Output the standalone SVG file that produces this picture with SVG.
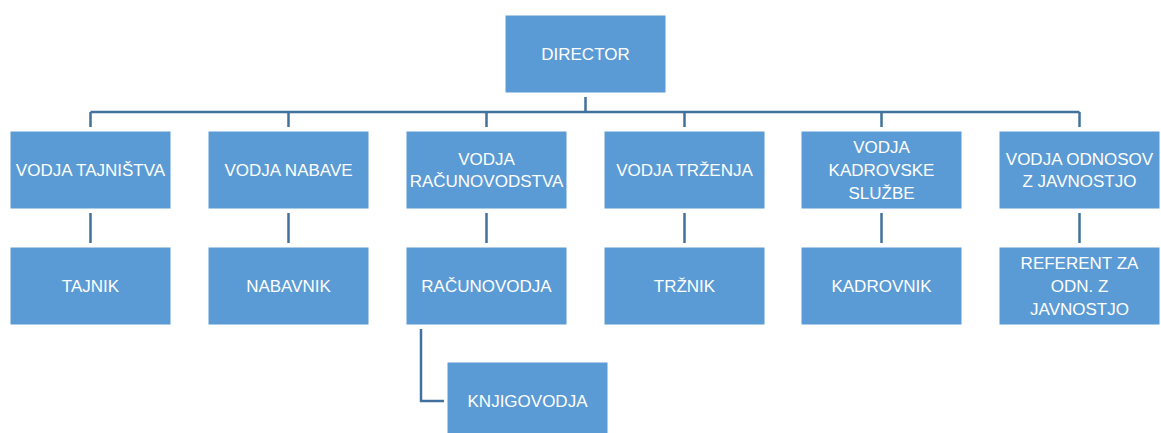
<svg xmlns="http://www.w3.org/2000/svg" width="1161" height="433" viewBox="0 0 1161 433">
<style>
.box{fill:#5B9BD5;stroke:#ffffff;stroke-width:1}
.t{fill:#ffffff;font-family:"Liberation Sans",Arial,sans-serif;font-size:17px;text-anchor:middle}
.c{fill:none;stroke:#41719C;stroke-width:2.5}
</style>
<rect width="1161" height="433" fill="#ffffff"/>
<g id="connectors">
<path class="c" d="M585.5 97V112M90.5 112H1079.5"/>
<path class="c" d="M90.5 112V127M288.5 112V127M486.5 112V127M684.5 112V127M881.5 112V127M1079.5 112V127"/>
<path class="c" d="M90.5 213V243M288.5 213V243M486.5 213V243M684.5 213V243M881.5 213V243M1079.5 213V243"/>
<path class="c" d="M421 329V401H444"/>
</g>
<g id="director"><rect class="box" x="505" y="15" width="161" height="78"/><text class="t" x="585.5" y="60">DIRECTOR</text></g>
<g id="vodja-tajnistva"><rect class="box" x="10" y="131" width="161" height="78"/><text class="t" x="90.5" y="176">VODJA TAJNIŠTVA</text></g>
<g id="vodja-nabave"><rect class="box" x="208" y="131" width="161" height="78"/><text class="t" x="288.5" y="176">VODJA NABAVE</text></g>
<g id="vodja-racunovodstva"><rect class="box" x="406" y="131" width="161" height="78"/><text class="t" x="486.5" y="165">VODJA</text><text class="t" x="486.5" y="187">RAČUNOVODSTVA</text></g>
<g id="vodja-trzenja"><rect class="box" x="604" y="131" width="161" height="78"/><text class="t" x="684.5" y="176">VODJA TRŽENJA</text></g>
<g id="vodja-kadrovske"><rect class="box" x="801" y="131" width="161" height="78"/><text class="t" x="881.5" y="153">VODJA</text><text class="t" x="881.5" y="176">KADROVSKE</text><text class="t" x="881.5" y="199">SLUŽBE</text></g>
<g id="vodja-odnosov"><rect class="box" x="999" y="131" width="161" height="78"/><text class="t" x="1079.5" y="165">VODJA ODNOSOV</text><text class="t" x="1079.5" y="187">Z JAVNOSTJO</text></g>
<g id="tajnik"><rect class="box" x="10" y="247" width="161" height="78"/><text class="t" x="90.5" y="292">TAJNIK</text></g>
<g id="nabavnik"><rect class="box" x="208" y="247" width="161" height="78"/><text class="t" x="288.5" y="292">NABAVNIK</text></g>
<g id="racunovodja"><rect class="box" x="406" y="247" width="161" height="78"/><text class="t" x="486.5" y="292">RAČUNOVODJA</text></g>
<g id="trznik"><rect class="box" x="604" y="247" width="161" height="78"/><text class="t" x="684.5" y="292">TRŽNIK</text></g>
<g id="kadrovnik"><rect class="box" x="801" y="247" width="161" height="78"/><text class="t" x="881.5" y="292">KADROVNIK</text></g>
<g id="referent"><rect class="box" x="999" y="247" width="161" height="78"/><text class="t" x="1079.5" y="269">REFERENT ZA</text><text class="t" x="1079.5" y="292">ODN. Z</text><text class="t" x="1079.5" y="315">JAVNOSTJO</text></g>
<g id="knjigovodja"><rect class="box" x="447" y="362" width="161" height="78"/><text class="t" x="527.5" y="407">KNJIGOVODJA</text></g>
</svg>
